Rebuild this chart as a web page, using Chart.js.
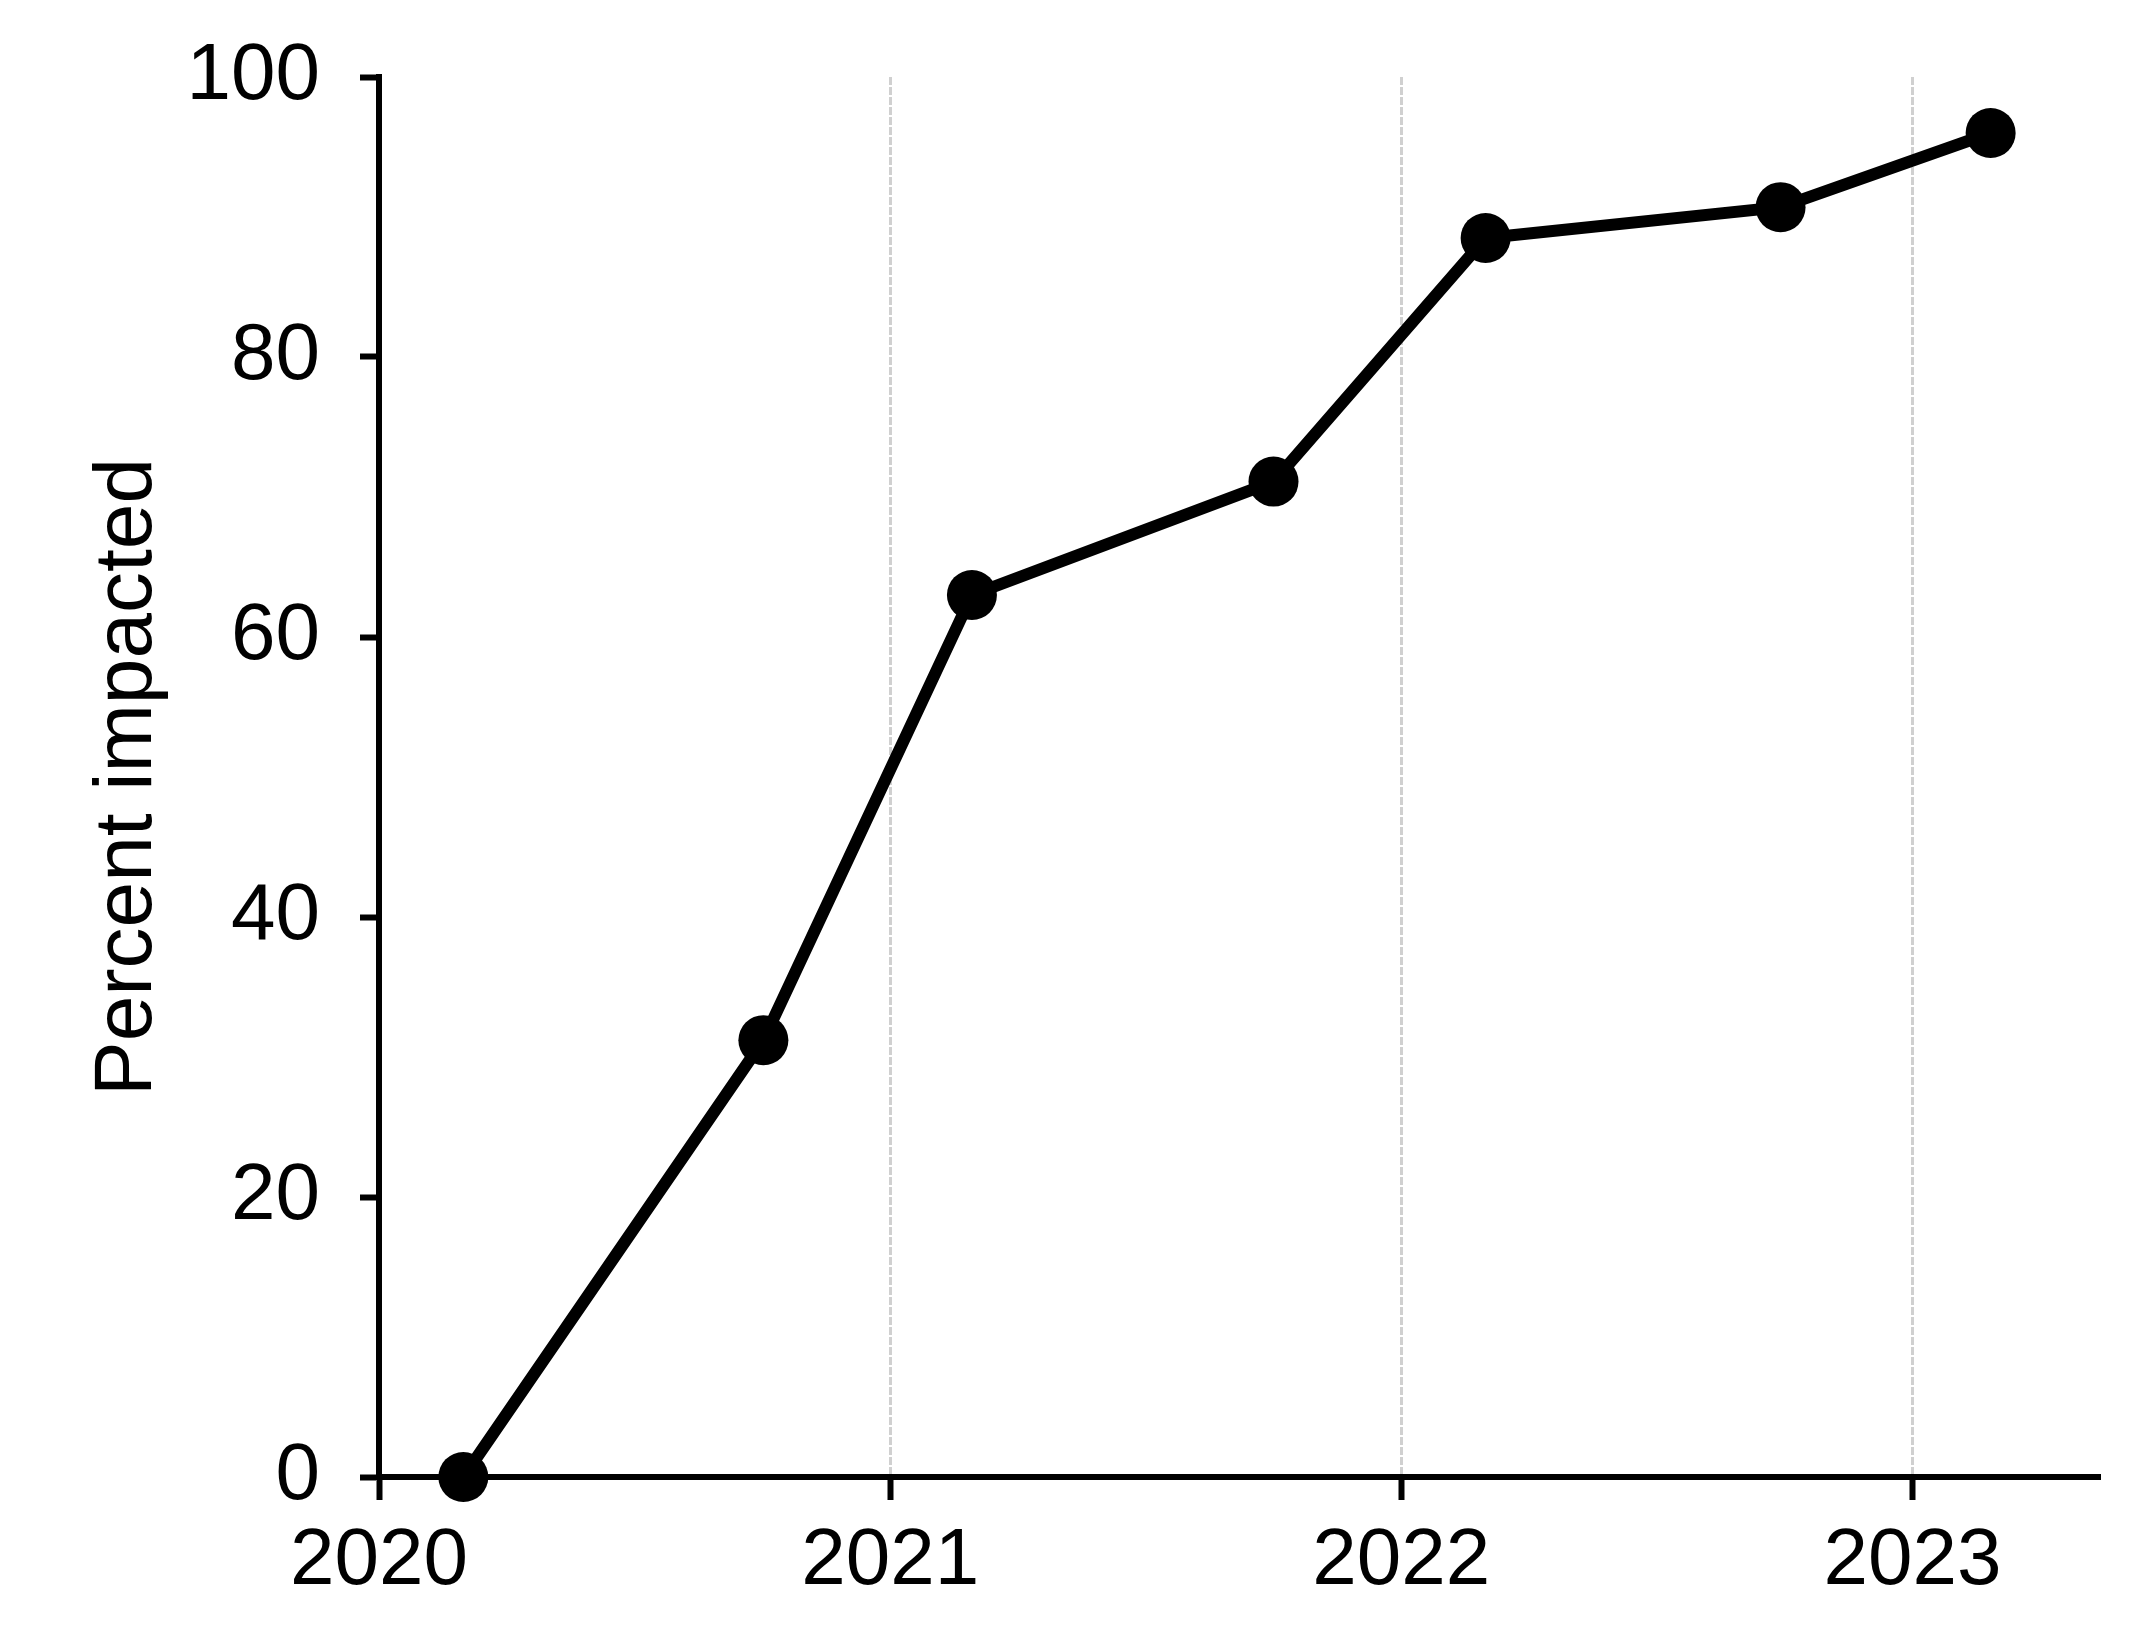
<!DOCTYPE html>
<html>
<head>
<meta charset="utf-8">
<script src="https://cdn.jsdelivr.net/npm/chart.js@4"></script>
<style>
    body { margin: 0; background: #fff; }
    #wrap { width: 2144px; height: 1626px; }
</style>
</head>
<body>
<div id="wrap"><canvas id="impactChart" width="2144" height="1626"></canvas></div>
<script>
// survey rounds (as fractional years) and percent impacted
const timePoints = [2020.165, 2020.752, 2021.16, 2021.75, 2022.165, 2022.742, 2023.153];
const percentImpacted = [0, 31.2, 63.0, 71.1, 88.5, 90.7, 96.0];
const yearTicks = [2020, 2021, 2022, 2023];
const percentTicks = [0, 20, 40, 60, 80, 100];

const font = "'Liberation Sans', Arial, sans-serif";

new Chart(document.getElementById('impactChart'), {
    type: 'line',
    data: {
        datasets: [{
            data: timePoints.map((t, i) => ({ x: t, y: percentImpacted[i] })),
            borderColor: '#000',
            backgroundColor: '#000',
            borderWidth: 12,
            tension: 0,
            pointRadius: 25,
            pointBorderWidth: 0,
            pointBackgroundColor: '#000',
            clip: false,
        }]
    },
    options: {
        responsive: false,
        animation: false,
        layout: { padding: { top: 77, right: 45, left: 79, bottom: 0 } },
        plugins: { legend: { display: false }, tooltip: { enabled: false } },
        scales: {
            x: {
                type: 'linear',
                min: 2020,
                max: 2023.365,
                afterBuildTicks: s => { s.ticks = yearTicks.map(v => ({ value: v })); },
                afterFit: s => { s.height = 149; },
                grid: {
                    color: ctx => ctx.tick && ctx.tick.value === 2020 ? 'rgba(0,0,0,0)' : '#d0d0d0',
                    lineWidth: 3,
                    tickColor: '#000',
                    tickWidth: 6,
                    tickLength: 23,
                },
                border: { color: '#000', width: 6, dash: [8, 2] },
                ticks: {
                    color: '#000',
                    font: { family: font, size: 80 },
                    padding: 14,
                    maxRotation: 0,
                    callback: v => String(v),
                },
            },
            y: {
                min: 0,
                max: 100,
                afterBuildTicks: s => { s.ticks = percentTicks.map(v => ({ value: v })); },
                afterFit: s => {
                    s.width = 300;
                    // labels may overhang the axis ends; keep the plot box fixed
                    s.paddingTop = 0;
                    s.paddingBottom = 0;
                },
                grid: {
                    drawOnChartArea: false,
                    tickColor: '#000',
                    tickWidth: 6,
                    tickLength: 19,
                },
                border: { color: '#000', width: 6 },
                ticks: {
                    color: '#000',
                    font: { family: font, size: 80 },
                    padding: 40,
                },
                title: {
                    display: true,
                    text: 'Percent impacted',
                    color: '#000',
                    font: { family: font, size: 82 },
                    padding: { top: 0, bottom: 0 },
                },
            },
        },
    },
});
</script>
</body>
</html>
